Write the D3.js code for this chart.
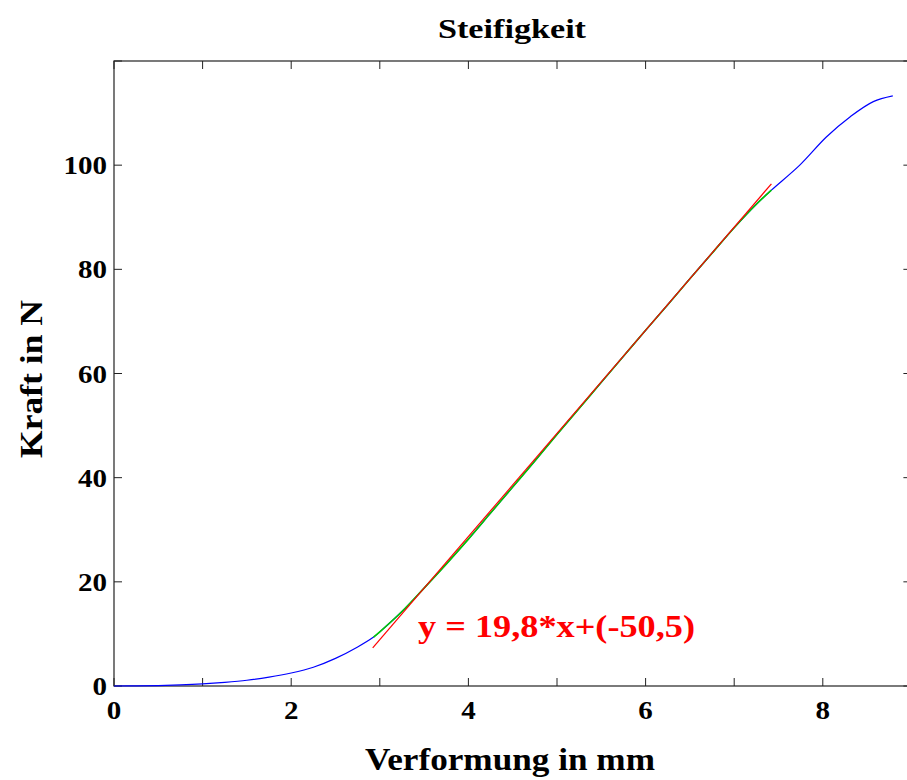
<!DOCTYPE html>
<html>
<head>
<meta charset="utf-8">
<script src="https://cdnjs.cloudflare.com/ajax/libs/d3/7.8.5/d3.min.js"></script>
<style>
  body { margin: 0; background: #fff; }
  svg text { font-family: "Liberation Serif", "DejaVu Serif", serif; font-weight: bold; }
</style>
</head>
<body>
<svg id="chart" width="907" height="780"></svg>
<script>
'use strict';

// measured curve (Verformung in mm, Kraft in N)
var defMm = [0, 0.25, 0.5, 0.75, 1.0, 1.25, 1.5, 1.75, 2.0, 2.25, 2.5, 2.75, 2.93, 3.0, 3.25, 3.5, 3.75, 4.0, 4.25, 4.5, 4.75, 5.0, 5.25, 5.5, 5.75, 6.0, 6.25, 6.5, 6.75, 7.0, 7.25, 7.42, 7.74, 8.04, 8.31, 8.57, 8.79];
var forceN = [0, 0.02, 0.08, 0.2, 0.4, 0.7, 1.1, 1.7, 2.5, 3.6, 5.3, 7.5, 9.4, 10.4, 14.3, 18.8, 23.4, 28.2, 33.2, 38.2, 43.2, 48.3, 53.3, 58.3, 63.3, 68.3, 73.2, 78.2, 83.1, 88.0, 92.5, 95.2, 100.0, 105.4, 109.3, 112.2, 113.3];

// range used for the fit (green)
var fitFrom = 2.93;
var fitTo = 7.42;

// fitted line y = 19,8*x + (-50,5), drawn between these x
var slope = 19.8;
var offset = -50.5;
var lineX = [2.92, 7.42];

var xTicks = [0, 1, 2, 3, 4, 5, 6, 7, 8, 9];
var xLabels = [0, 2, 4, 6, 8];
var yTicks = [0, 20, 40, 60, 80, 100, 120];
var yLabels = [0, 20, 40, 60, 80, 100];

var svg = d3.select('#chart');

var pLeft = 114, pTop = 61, pBottom = 686, pRight = 911.4;

var x = d3.scaleLinear().domain([0, 9]).range([pLeft, pRight]);
var y = d3.scaleLinear().domain([0, 120]).range([pBottom, pTop]);

//Box and ticks
var axisCol = '#222';
svg.append('rect')
	.attr('x', pLeft).attr('y', pTop)
	.attr('width', pRight - pLeft).attr('height', pBottom - pTop)
	.attr('fill', 'none').attr('stroke', axisCol).attr('stroke-width', 1.2);

var tickLen = 8;
svg.append('g').selectAll('line').data(xTicks).enter().append('line')
	.attr('x1', function(d){ return x(d); }).attr('x2', function(d){ return x(d); })
	.attr('y1', pBottom).attr('y2', pBottom - tickLen)
	.attr('stroke', axisCol);
svg.append('g').selectAll('line').data(xTicks).enter().append('line')
	.attr('x1', function(d){ return x(d); }).attr('x2', function(d){ return x(d); })
	.attr('y1', pTop).attr('y2', pTop + tickLen)
	.attr('stroke', axisCol);
svg.append('g').selectAll('line').data(yTicks).enter().append('line')
	.attr('x1', pLeft).attr('x2', pLeft + tickLen)
	.attr('y1', function(d){ return y(d); }).attr('y2', function(d){ return y(d); })
	.attr('stroke', axisCol);
svg.append('g').selectAll('line').data(yTicks).enter().append('line')
	.attr('x1', pRight).attr('x2', pRight - tickLen)
	.attr('y1', function(d){ return y(d); }).attr('y2', function(d){ return y(d); })
	.attr('stroke', axisCol);

//Tick labels (slightly widened, the original face is broader)
svg.append('g').selectAll('text').data(xLabels).enter().append('text')
	.attr('x', function(d){ return x(d); })
	.attr('y', pBottom + 33)
	.attr('text-anchor', 'middle')
	.attr('font-size', 26)
	.attr('textLength', function(d){ return String(d).length * 14.5; })
	.attr('lengthAdjust', 'spacingAndGlyphs')
	.text(function(d){ return d; });
svg.append('g').selectAll('text').data(yLabels).enter().append('text')
	.attr('x', pLeft - 7)
	.attr('y', function(d){ return y(d) + 9; })
	.attr('text-anchor', 'end')
	.attr('font-size', 26)
	.attr('textLength', function(d){ return String(d).length * 14.5; })
	.attr('lengthAdjust', 'spacingAndGlyphs')
	.text(function(d){ return d; });

//Titles
svg.append('text')
	.attr('x', 512).attr('y', 38)
	.attr('text-anchor', 'middle')
	.attr('font-size', 28)
	.attr('textLength', 148).attr('lengthAdjust', 'spacingAndGlyphs')
	.text('Steifigkeit');
svg.append('text')
	.attr('x', 510).attr('y', 770)
	.attr('text-anchor', 'middle')
	.attr('font-size', 31)
	.attr('textLength', 290).attr('lengthAdjust', 'spacingAndGlyphs')
	.text('Verformung in mm');
svg.append('text')
	.attr('transform', 'translate(42,379) rotate(-90)')
	.attr('text-anchor', 'middle')
	.attr('font-size', 31)
	.attr('textLength', 158).attr('lengthAdjust', 'spacingAndGlyphs')
	.text('Kraft in N');

//Curves
var pts = defMm.map(function(d, i){ return [d, forceN[i]]; });
var fitPts = pts.filter(function(p){ return p[0] >= fitFrom && p[0] <= fitTo; });
var line = d3.line()
	.x(function(p){ return x(p[0]); })
	.y(function(p){ return y(p[1]); })
	.curve(d3.curveCatmullRom.alpha(0.5));

svg.append('path').datum(pts)
	.attr('d', line)
	.attr('fill', 'none').attr('stroke', '#0000ff').attr('stroke-width', 1.2);
svg.append('path').datum(fitPts)
	.attr('d', line)
	.attr('fill', 'none').attr('stroke', '#00cc00').attr('stroke-width', 1.6);
svg.append('path').datum(lineX.map(function(v){ return [v, slope * v + offset]; }))
	.attr('d', d3.line().x(function(p){ return x(p[0]); }).y(function(p){ return y(p[1]); }))
	.attr('fill', 'none').attr('stroke', '#ff0000').attr('stroke-width', 1.2);

svg.append('text')
	.attr('x', 418).attr('y', 637)
	.attr('fill', '#ff0000')
	.attr('font-size', 31)
	.attr('textLength', 277).attr('lengthAdjust', 'spacingAndGlyphs')
	.text('y = 19,8*x+(-50,5)');
</script>
</body>
</html>
